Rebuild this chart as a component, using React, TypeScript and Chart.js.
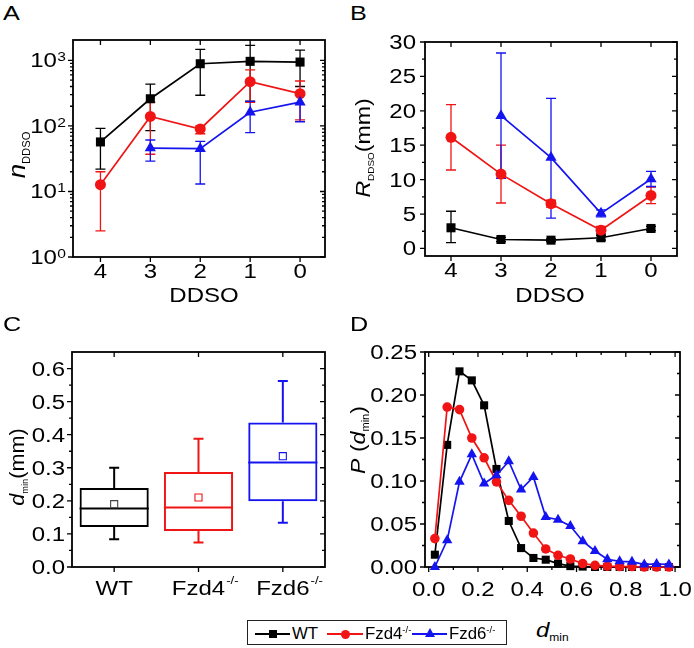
import React, { useEffect, useRef } from 'react';
import { Chart, registerables } from 'chart.js';
Chart.register(...registerables);

const FONT = "'Liberation Sans', Arial, Helvetica, sans-serif";
const BLACK = '#000000';
const RED = '#f01414';
const BLUE = '#1414f0';
const TICK = 20;
const SX = 1.2;

// ---------- Panel A : n_DDSO (log scale) ----------
const ddsoX = [4, 3, 2, 1, 0];
const ddsoTickLabels = ['4', '3', '2', '1', '0'];
const nWT = [57, 260, 890, 968, 944];
const nWTHi = [92, 435, 1470, 1700, 1435];
const nWTLo = [22, 85, 294, 240, 400];
const nFzd4 = [12.7, 140, 90, 473, 311];
const nFzd4Hi = [20, 230, 100, 720, 485];
const nFzd4Lo = [2.5, 37, 76, 230, 124];
const nFzd6 = [null, 46, 45, 162, 231];
const nFzd6Hi = [null, 61, 58, 237, 294];
const nFzd6Lo = [null, 29, 13, 79, 116];
const logTickValues = [1, 10, 100, 1000];
const logTickExps = ['0', '1', '2', '3'];
const logMinor = [2, 3, 4, 5, 6, 7, 8, 9, 20, 30, 40, 50, 60, 70, 80, 90, 200, 300, 400, 500, 600, 700, 800, 900];

// ---------- Panel B : R_DDSO (mm) ----------
const rWT = [3.0, 1.3, 1.2, 1.55, 2.9];
const rWTHi = [5.4, 1.6, 1.4, 1.9, 3.2];
const rWTLo = [0.85, 1.0, 1.0, 1.2, 2.6];
const rFzd4 = [16.15, 10.8, 6.5, 2.65, 7.7];
const rFzd4Hi = [20.9, 15.0, 7.0, 3.2, 8.9];
const rFzd4Lo = [11.4, 6.6, 6.0, 2.1, 6.5];
const rFzd6 = [null, 19.3, 13.2, 5.1, 10.1];
const rFzd6Hi = [null, 28.4, 21.8, 5.6, 11.2];
const rFzd6Lo = [null, 10.2, 4.4, 4.6, 9.0];
const rTicks = [0, 5, 10, 15, 20, 25, 30];
const rTickLabels = ['0', '5', '10', '15', '20', '25', '30'];
const rMinor = [2.5, 7.5, 12.5, 17.5, 22.5, 27.5];

// ---------- Panel C : d_min box plot ----------
const groups = ['WT', 'Fzd4', 'Fzd6'];
const groupSup = ['', '-/-', '-/-'];
const dMin = [0.084, 0.074, 0.134];
const dQ1 = [0.121, 0.109, 0.199];
const dMed = [0.177, 0.18, 0.316];
const dQ3 = [0.239, 0.287, 0.437];
const dMax = [0.3, 0.388, 0.562];
const dMean = [0.19, 0.21, 0.335];
const cTicks = [0, 0.1, 0.2, 0.3, 0.4, 0.5, 0.6];
const cTickLabels = ['0.0', '0.1', '0.2', '0.3', '0.4', '0.5', '0.6'];
const cMinor = [0.05, 0.15, 0.25, 0.35, 0.45, 0.55];

// ---------- Panel D : P(d_min) ----------
const binCenters = [0.025, 0.075, 0.125, 0.175, 0.225, 0.275, 0.325, 0.375, 0.425, 0.475,
  0.525, 0.575, 0.625, 0.675, 0.725, 0.775, 0.825, 0.875, 0.925, 0.975];
const pWT = [0.0143, 0.142, 0.2275, 0.217, 0.188, 0.114, 0.0535, 0.022, 0.0105, 0.0085,
  0.004, 0.001, 0.0005, 0, 0, 0, 0, 0, 0, 0];
const pFzd4 = [0.033, 0.186, 0.183, 0.15, 0.127, 0.099, 0.0775, 0.059, 0.0395, 0.021,
  0.0136, 0.0093, 0.004, 0.002, 0.001, 0.0005, 0.0005, 0, 0, 0];
const pFzd6 = [0.0, 0.031, 0.099, 0.131, 0.097, 0.1066, 0.123, 0.09, 0.1047, 0.058,
  0.055, 0.0477, 0.03, 0.0186, 0.009, 0.0066, 0.006, 0.003, 0.0035, 0.003];
const dxTicks = [0, 0.2, 0.4, 0.6, 0.8, 1.0];
const dxTickLabels = ['0.0', '0.2', '0.4', '0.6', '0.8', '1.0'];
const dxMinor = [0.1, 0.3, 0.5, 0.7, 0.9];
const dyTicks = [0, 0.05, 0.1, 0.15, 0.2, 0.25];
const dyTickLabels = ['0.00', '0.05', '0.10', '0.15', '0.20', '0.25'];
const dyMinor = [0.025, 0.075, 0.125, 0.175, 0.225];

const pts = (xs: number[], ys: (number | null)[]) => xs.map((x, i) => ({ x, y: ys[i] }));

// draw text stretched horizontally (reference typeface is wide)
function wideText(ctx: any, text: string, x: number, y: number, align: string, size: number, sx = SX) {
  ctx.save();
  ctx.font = `${size}px ${FONT}`;
  ctx.textAlign = align;
  ctx.textBaseline = 'alphabetic';
  ctx.translate(x, y);
  ctx.scale(sx, 1);
  ctx.fillText(text, 0, 0);
  ctx.restore();
}

// ---------- plugins ----------
const framePlugin = {
  id: 'frame',
  beforeDatasetsDraw(chart: any, _a: any, o: any) {
    const { ctx, chartArea: a } = chart;
    const xs = chart.scales.x, ys = chart.scales.y;
    const L = 5, M = 3;
    ctx.save();
    ctx.strokeStyle = '#000';
    ctx.lineWidth = 1.3;
    ctx.beginPath();
    const xTick = (v: number, len: number) => {
      const p = xs.getPixelForValue(v);
      ctx.moveTo(p, a.bottom); ctx.lineTo(p, a.bottom + len);
      ctx.moveTo(p, a.top); ctx.lineTo(p, a.top + len);
    };
    const yTick = (v: number, len: number) => {
      const p = ys.getPixelForValue(v);
      ctx.moveTo(a.left - len, p); ctx.lineTo(a.left, p);
      ctx.moveTo(a.right - len, p); ctx.lineTo(a.right, p);
    };
    (o.xMajor || []).forEach((v: number) => xTick(v, L));
    (o.xMinor || []).forEach((v: number) => xTick(v, M));
    (o.yMajor || []).forEach((v: number) => yTick(v, L));
    (o.yMinor || []).forEach((v: number) => yTick(v, M));
    ctx.stroke();
    ctx.lineWidth = 1.8;
    ctx.strokeRect(a.left, a.top, a.right - a.left, a.bottom - a.top);
    ctx.restore();
  },
};

// tick labels
const tickLabelPlugin = {
  id: 'tickText',
  afterDraw(chart: any, _a: any, o: any) {
    const { ctx, chartArea: a } = chart;
    const xs = chart.scales.x, ys = chart.scales.y;
    ctx.save();
    ctx.fillStyle = '#000';
    if (o.xVals) {
      o.xVals.forEach((v: number, i: number) => {
        wideText(ctx, o.xLabels[i], xs.getPixelForValue(v), a.bottom + o.xOff, 'center', TICK);
      });
    }
    if (o.yVals) {
      o.yVals.forEach((v: number, i: number) => {
        wideText(ctx, o.yLabels[i], a.left - o.yPad, ys.getPixelForValue(v) + 7, 'right', TICK);
      });
    }
    ctx.restore();
  },
};

const errorBarPlugin = {
  id: 'errorBars',
  beforeDatasetsDraw(chart: any, _a: any, o: any) {
    if (!o || !o.sets) return;
    const { ctx } = chart;
    const xs = chart.scales.x, ys = chart.scales.y;
    const cap = 5;
    ctx.save();
    ctx.lineWidth = 1.3;
    o.sets.forEach((s: any) => {
      ctx.strokeStyle = s.color;
      ctx.beginPath();
      ddsoX.forEach((xv, i) => {
        const lo = s.lo[i], hi = s.hi[i];
        if (lo == null || hi == null) return;
        const px = xs.getPixelForValue(xv);
        const pl = ys.getPixelForValue(lo), ph = ys.getPixelForValue(hi);
        ctx.moveTo(px, pl); ctx.lineTo(px, ph);
        ctx.moveTo(px - cap, pl); ctx.lineTo(px + cap, pl);
        ctx.moveTo(px - cap, ph); ctx.lineTo(px + cap, ph);
      });
      ctx.stroke();
    });
    ctx.restore();
  },
};

const logLabelPlugin = {
  id: 'logLabels',
  afterDraw(chart: any) {
    const { ctx, chartArea: a } = chart;
    const ys = chart.scales.y;
    ctx.save();
    ctx.fillStyle = '#000';
    logTickValues.forEach((v, i) => {
      const py = ys.getPixelForValue(v);
      const supRight = a.left - 7;
      ctx.font = `13px ${FONT}`;
      const sw = ctx.measureText(logTickExps[i]).width * SX;
      wideText(ctx, logTickExps[i], supRight, py + 1, 'right', 13);
      wideText(ctx, '10', supRight - sw - 0.5, py + 7, 'right', TICK);
    });
    ctx.restore();
  },
};

const boxPlugin = {
  id: 'boxParts',
  beforeDatasetsDraw(chart: any) {
    const { ctx } = chart;
    const xs = chart.scales.x, ys = chart.scales.y;
    const meta = chart.getDatasetMeta(0);
    const cols = [BLACK, RED, BLUE];
    ctx.save();
    ctx.lineWidth = 2;
    groups.forEach((_, i) => {
      const el = meta.data[i];
      const px = xs.getPixelForValue(i);
      const hw = el ? el.width / 2 : 34;
      const cap = 5;
      ctx.strokeStyle = cols[i];
      ctx.beginPath();
      const m = ys.getPixelForValue(dMed[i]);
      ctx.moveTo(px - hw, m); ctx.lineTo(px + hw, m);
      const q3 = ys.getPixelForValue(dQ3[i]), mx = ys.getPixelForValue(dMax[i]);
      const q1 = ys.getPixelForValue(dQ1[i]), mn = ys.getPixelForValue(dMin[i]);
      ctx.moveTo(px, q3); ctx.lineTo(px, mx);
      ctx.moveTo(px - cap, mx); ctx.lineTo(px + cap, mx);
      ctx.moveTo(px, q1); ctx.lineTo(px, mn);
      ctx.moveTo(px - cap, mn); ctx.lineTo(px + cap, mn);
      ctx.stroke();
    });
    ctx.restore();
  },
  afterDraw(chart: any) {
    const { ctx, chartArea: a } = chart;
    const xs = chart.scales.x;
    ctx.save();
    ctx.fillStyle = '#000';
    groups.forEach((g, i) => {
      const px = xs.getPixelForValue(i);
      ctx.font = `${TICK}px ${FONT}`;
      const w = ctx.measureText(g).width * SX;
      const base = a.bottom + 28;
      wideText(ctx, g, px - w / 2, base, 'left', TICK);
      if (groupSup[i]) wideText(ctx, groupSup[i], px + w / 2 + 1, base - 11, 'left', 11);
    });
    ctx.restore();
  },
};

// ---------- common option helpers ----------
const fixW = (w: number) => (s: any) => { s.width = w; s.paddingTop = 0; s.paddingBottom = 0; };
const fixH = (h: number) => (s: any) => { s.height = h; s.paddingLeft = 0; s.paddingRight = 0; };
const setTicks = (vals: number[]) => (s: any) => { s.ticks = vals.map((v) => ({ value: v })); };

const baseOptions = (padding: any) => ({
  responsive: false,
  maintainAspectRatio: false,
  animation: false as const,
  devicePixelRatio: 1,
  events: [] as any[],
  layout: { padding },
});

const seriesStyle = (color: string, style: string, radius: number) => ({
  borderColor: color,
  backgroundColor: color,
  pointBackgroundColor: color,
  pointBorderColor: color,
  pointStyle: style,
  pointRadius: radius,
  pointBorderWidth: 0,
  borderWidth: 1.7,
  tension: 0,
  clip: false as const,
});

const hiddenAxis = (extra: any) => ({
  grid: { display: false },
  border: { display: false },
  ticks: { display: false },
  ...extra,
});

function makeA() {
  return {
    type: 'line',
    data: {
      datasets: [
        { label: 'WT', data: pts(ddsoX, nWT), ...seriesStyle(BLACK, 'rect', 6.4), order: 3 },
        { label: 'Fzd4', data: pts(ddsoX, nFzd4), ...seriesStyle(RED, 'circle', 5.5), order: 2 },
        { label: 'Fzd6', data: pts(ddsoX, nFzd6), ...seriesStyle(BLUE, 'triangle', 6.5), order: 1 },
      ],
    },
    options: {
      ...baseOptions({ left: 0, top: 12, right: 20, bottom: 0 }),
      plugins: {
        legend: { display: false },
        tooltip: { enabled: false },
        frame: { xMajor: ddsoX, yMajor: logTickValues, yMinor: logMinor },
        tickText: { xVals: ddsoX, xLabels: ddsoTickLabels, xOff: 21 },
        errorBars: {
          sets: [
            { color: BLACK, lo: nWTLo, hi: nWTHi },
            { color: RED, lo: nFzd4Lo, hi: nFzd4Hi },
            { color: BLUE, lo: nFzd6Lo, hi: nFzd6Hi },
          ],
        },
      },
      scales: {
        x: hiddenAxis({ type: 'linear', reverse: true, min: -0.5, max: 4.55, afterBuildTicks: setTicks(ddsoX), afterFit: fixH(51) }),
        y: hiddenAxis({ type: 'logarithmic', min: 1, max: 2050, afterBuildTicks: setTicks(logTickValues), afterFit: fixW(73) }),
      },
    },
    plugins: [framePlugin, errorBarPlugin, logLabelPlugin, tickLabelPlugin],
  };
}

function makeB() {
  return {
    type: 'line',
    data: {
      datasets: [
        { label: 'WT', data: pts(ddsoX, rWT), ...seriesStyle(BLACK, 'rect', 6.4), order: 3 },
        { label: 'Fzd4', data: pts(ddsoX, rFzd4), ...seriesStyle(RED, 'circle', 5.5), order: 2 },
        { label: 'Fzd6', data: pts(ddsoX, rFzd6), ...seriesStyle(BLUE, 'triangle', 6.5), order: 1 },
      ],
    },
    options: {
      ...baseOptions({ left: 0, top: 14, right: 17, bottom: 0 }),
      plugins: {
        legend: { display: false },
        tooltip: { enabled: false },
        frame: { xMajor: ddsoX, yMajor: rTicks, yMinor: rMinor },
        tickText: { xVals: ddsoX, xLabels: ddsoTickLabels, xOff: 21, yVals: rTicks, yLabels: rTickLabels, yPad: 9 },
        errorBars: {
          sets: [
            { color: BLACK, lo: rWTLo, hi: rWTHi },
            { color: RED, lo: rFzd4Lo, hi: rFzd4Hi },
            { color: BLUE, lo: rFzd6Lo, hi: rFzd6Hi },
          ],
        },
      },
      scales: {
        x: hiddenAxis({ type: 'linear', reverse: true, min: -0.52, max: 4.52, afterBuildTicks: setTicks(ddsoX), afterFit: fixH(52) }),
        y: hiddenAxis({ type: 'linear', min: -1.1, max: 30, afterBuildTicks: setTicks(rTicks), afterFit: fixW(78) }),
      },
    },
    plugins: [framePlugin, errorBarPlugin, tickLabelPlugin],
  };
}

function makeC() {
  return {
    type: 'bar',
    data: {
      labels: groups,
      datasets: [
        {
          type: 'bar',
          data: groups.map((_, i) => [dQ1[i], dQ3[i]]),
          backgroundColor: 'rgba(0,0,0,0)',
          borderColor: [BLACK, RED, BLUE],
          borderWidth: 2,
          borderSkipped: false,
          barPercentage: 0.82,
          categoryPercentage: 1,
          order: 2,
        },
        {
          type: 'line',
          data: dMean,
          showLine: false,
          pointStyle: 'rect',
          pointRadius: 5,
          pointBorderWidth: 1.1,
          pointBackgroundColor: 'rgba(255,255,255,0)',
          pointBorderColor: ['#444444', RED, BLUE],
          order: 1,
        },
      ],
    },
    options: {
      ...baseOptions({ left: 0, top: 44, right: 20, bottom: 0 }),
      plugins: {
        legend: { display: false },
        tooltip: { enabled: false },
        frame: { xMajor: [0, 1, 2], yMajor: cTicks, yMinor: cMinor },
        tickText: { yVals: cTicks, yLabels: cTickLabels, yPad: 7 },
      },
      scales: {
        x: hiddenAxis({ type: 'category', offset: true, afterFit: fixH(41) }),
        y: hiddenAxis({ type: 'linear', min: 0, max: 0.65, afterBuildTicks: setTicks(cTicks), afterFit: fixW(72) }),
      },
    },
    plugins: [framePlugin, boxPlugin, tickLabelPlugin],
  };
}

function makeD() {
  return {
    type: 'line',
    data: {
      datasets: [
        { label: 'WT', data: pts(binCenters, pWT), ...seriesStyle(BLACK, 'rect', 5.7), order: 3 },
        { label: 'Fzd4', data: pts(binCenters, pFzd4), ...seriesStyle(RED, 'circle', 4.8), order: 2 },
        { label: 'Fzd6', data: pts(binCenters, pFzd6), ...seriesStyle(BLUE, 'triangle', 6), order: 1 },
      ],
    },
    options: {
      ...baseOptions({ left: 0, top: 44, right: 14, bottom: 0 }),
      plugins: {
        legend: { display: false },
        tooltip: { enabled: false },
        frame: { xMajor: dxTicks, xMinor: dxMinor, yMajor: dyTicks, yMinor: dyMinor },
        tickText: { xVals: dxTicks, xLabels: dxTickLabels, xOff: 29, yVals: dyTicks, yLabels: dyTickLabels, yPad: 8 },
      },
      scales: {
        x: hiddenAxis({ type: 'linear', min: -0.015, max: 1.02, afterBuildTicks: setTicks(dxTicks), afterFit: fixH(41) }),
        y: hiddenAxis({ type: 'linear', min: 0, max: 0.25, afterBuildTicks: setTicks(dyTicks), afterFit: fixW(78) }),
      },
    },
    plugins: [framePlugin, tickLabelPlugin],
  };
}

function ChartBox({ left, top, width, height, make }: { left: number; top: number; width: number; height: number; make: () => any }) {
  const ref = useRef<HTMLCanvasElement>(null);
  useEffect(() => {
    const chart = new Chart(ref.current as HTMLCanvasElement, make());
    return () => chart.destroy();
  }, []);
  return (
    <div style={{ position: 'absolute', left, top, width, height }}>
      <canvas ref={ref} width={width} height={height} style={{ width, height, display: 'block' }} />
    </div>
  );
}

function T({ x, y, size, children, center, sx = SX }: { x: number; y: number; size: number; children: any; center?: boolean; sx?: number }) {
  return (
    <div
      style={{
        position: 'absolute', left: x, top: y - 0.847 * size, fontSize: size, lineHeight: 1,
        fontFamily: FONT, whiteSpace: 'nowrap', color: '#000',
        transformOrigin: center ? 'center' : 'left',
        transform: center ? `translateX(-50%) scaleX(${sx})` : `scaleX(${sx})`,
      }}
    >
      {children}
    </div>
  );
}

function RT({ cx, cy, size, children, sx = 1 }: { cx: number; cy: number; size: number; children: any; sx?: number }) {
  return (
    <div
      style={{
        position: 'absolute', left: cx, top: cy, fontSize: size, lineHeight: 1, fontFamily: FONT,
        whiteSpace: 'nowrap', color: '#000', transform: `translate(-50%,-50%) rotate(-90deg) scaleX(${sx})`,
      }}
    >
      {children}
    </div>
  );
}

const Sub = ({ children, size = 10, drop = 4 }: { children: any; size?: number; drop?: number }) => (
  <span style={{ fontSize: size, position: 'relative', top: drop, fontStyle: 'normal' }}>{children}</span>
);
const Sup = ({ children, size = 10, rise = 7 }: { children: any; size?: number; rise?: number }) => (
  <span style={{ fontSize: size, position: 'relative', top: -rise }}>{children}</span>
);

function Legend() {
  const lineY = 633;
  const items = [
    { x0: 255, x1: 290, color: BLACK, marker: 'square', label: 'WT', sup: '' },
    { x0: 327, x1: 363, color: RED, marker: 'circle', label: 'Fzd4', sup: '-/-' },
    { x0: 412, x1: 447, color: BLUE, marker: 'triangle', label: 'Fzd6', sup: '-/-' },
  ];
  return (
    <>
      <div style={{ position: 'absolute', left: 247, top: 620, width: 260, height: 25, border: '1px solid #222', boxSizing: 'border-box', background: '#fff' }} />
      {items.map((it, i) => {
        const cx = (it.x0 + it.x1) / 2;
        let marker: any = null;
        if (it.marker === 'square') marker = <div style={{ position: 'absolute', left: cx - 4, top: lineY + 1 - 4, width: 8, height: 8, background: it.color }} />;
        if (it.marker === 'circle') marker = <div style={{ position: 'absolute', left: cx - 4.5, top: lineY + 1 - 4.5, width: 9, height: 9, borderRadius: '50%', background: it.color }} />;
        if (it.marker === 'triangle') marker = <div style={{ position: 'absolute', left: cx - 5, top: lineY + 1 - 6, width: 0, height: 0, borderLeft: '5px solid transparent', borderRight: '5px solid transparent', borderBottom: `9px solid ${it.color}` }} />;
        return (
          <React.Fragment key={i}>
            <div style={{ position: 'absolute', left: it.x0, top: lineY, width: it.x1 - it.x0, height: 2, background: it.color }} />
            {marker}
            <T x={it.x1 + 2} y={640} size={16} sx={1.05}>
              {it.label}
              {it.sup ? <Sup size={9} rise={6}>{it.sup}</Sup> : null}
            </T>
          </React.Fragment>
        );
      })}
    </>
  );
}

export default function App() {
  return (
    <div style={{ position: 'absolute', left: 0, top: 0, width: 694, height: 648, background: '#fff', overflow: 'hidden', fontFamily: FONT }}>
      <ChartBox left={0} top={28} width={345} height={280} make={makeA} />
      <ChartBox left={347} top={28} width={347} height={280} make={makeB} />
      <ChartBox left={0} top={308} width={345} height={300} make={makeC} />
      <ChartBox left={347} top={308} width={347} height={300} make={makeD} />

      <T x={3} y={20} size={21}>A</T>
      <T x={350} y={20} size={21}>B</T>
      <T x={3} y={331} size={21}>C</T>
      <T x={350} y={331} size={21}>D</T>

      <T x={204} y={302} size={20} center>DDSO</T>
      <T x={550} y={302} size={20} center>DDSO</T>
      <T x={536} y={637} size={20}><i>d</i><Sub size={10} drop={4}>min</Sub></T>

      <RT cx={17} cy={155} size={23} sx={1.12}><i>n</i><Sub size={10} drop={5}>DDSO</Sub></RT>
      <RT cx={362} cy={148} size={21} sx={1.1}><i>R</i><Sub size={9} drop={4}>DDSO</Sub>(mm)</RT>
      <RT cx={16} cy={467} size={21} sx={1.03}><i>d</i><Sub size={9} drop={4}>min</Sub>(mm)</RT>
      <RT cx={357} cy={440} size={21} sx={1.1}><i>P</i> (<i>d</i><Sub size={10} drop={4}>min</Sub>)</RT>

      <Legend />
    </div>
  );
}
